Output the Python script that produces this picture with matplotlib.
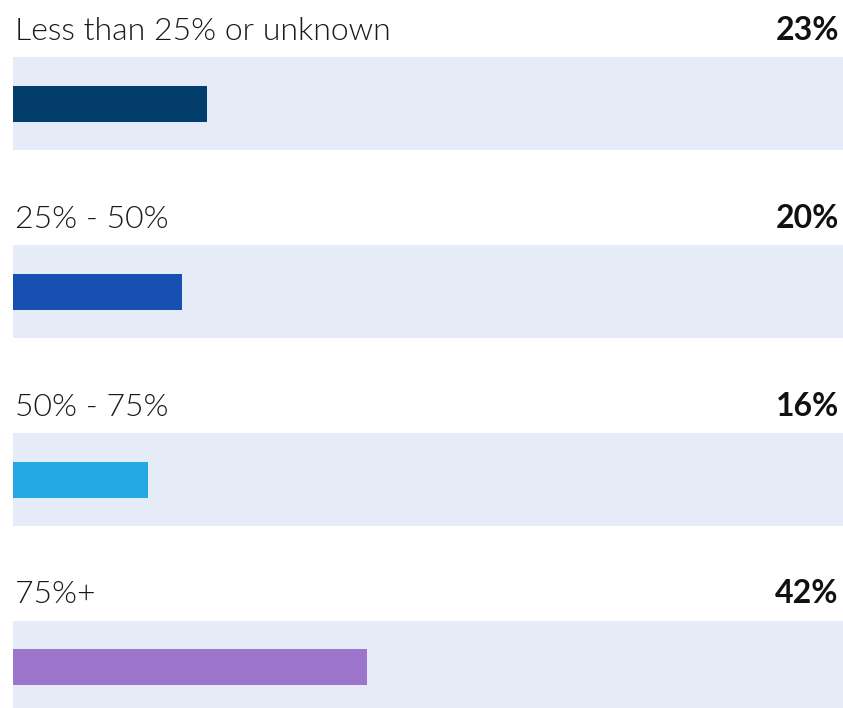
import matplotlib.pyplot as plt
from matplotlib import font_manager

# data
categories = ["Less than 25% or unknown", "25% - 50%", "50% - 75%", "75%+"]
values = [23, 20, 16, 42]
colors = ["#023d6b", "#174fb3", "#22a8e3", "#9e75cc"]
band_color = "#e5ecf8"

# pick the Lato weight closest to "light" but not hairline
lato = [f for f in font_manager.fontManager.ttflist
        if f.name == "Lato" and f.style == "normal"]
light_w = 400
cands = [f.weight for f in lato if isinstance(f.weight, int) and 250 <= f.weight <= 400]
if cands:
    light_w = min(cands, key=lambda w: abs(w - 300))

fig = plt.figure(figsize=(8.43, 7.08), dpi=100)
ax = fig.add_axes([0, 0, 1, 1])

# pixel layout -> data units (row spacing ~188px, 8.43px per %)
px_row = 187.8
px_pct = 8.43
x0 = 13
xmax = (843 - x0) / px_pct
rows = range(len(categories))

ax.barh(rows, [xmax] * len(values), height=93 / px_row, left=0,
        color=band_color, zorder=1)
ax.barh(rows, values, height=36 / px_row, color=colors, zorder=2)

for i, (cat, v) in enumerate(zip(categories, values)):
    ax.text(0.2, i - 64 / px_row, cat, fontsize=23, family="Lato",
            fontweight=light_w, color="#1a1a1a", va="baseline", ha="left")
    ax.text(xmax - 0.5, i - 64 / px_row, f"{v}%", fontsize=23, family="Lato",
            fontweight="bold", color="#111111", va="baseline", ha="right")

ax.set_xlim(-x0 / px_pct, xmax)
ax.set_ylim((708 - 104) / px_row, -104 / px_row)
ax.axis("off")

plt.savefig("out.png", dpi=100)
